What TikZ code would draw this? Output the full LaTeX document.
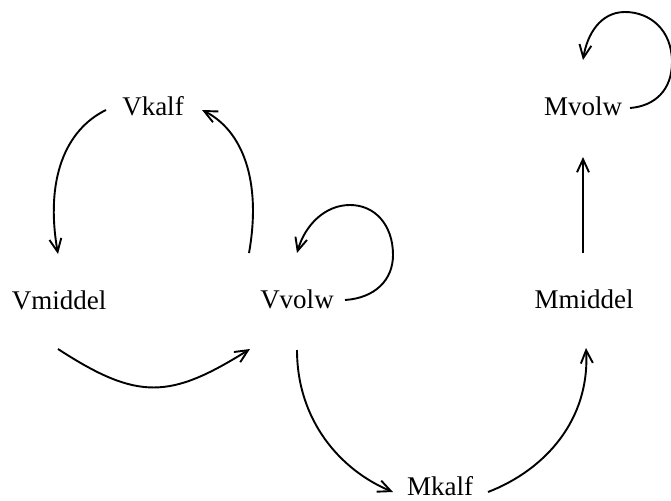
\documentclass[tikz,border=0pt]{standalone}
\usepackage{fontspec}
\setmainfont{Liberation Serif}
\usetikzlibrary{arrows.meta}
\begin{document}
\begin{tikzpicture}[x=1pt,y=-1pt,
  lbl/.style={inner sep=0pt,anchor=base,font=\fontsize{27}{30}\selectfont},
  arr/.style={line width=1.9pt,-{Straight Barb[length=13pt,width=12pt,line width=1.9pt]}}]
\useasboundingbox (0,0) rectangle (671,500);
\node[lbl] (vk) at (153,116) {Vkalf};
\node[lbl] (vm) at (59,309) {Vmiddel};
\node[lbl] (vv) at (297,308) {Vvolw};
\node[lbl] (mv) at (583,115) {Mvolw};
\node[lbl] (mm) at (584,308) {Mmiddel};
\node[lbl] (mk) at (440,495) {Mkalf};
% Vkalf -> Vmiddel
\draw[arr] ([shift={(-47,-6)}]vk.base) .. controls +(-41,20) and +(-13,-74) .. ([shift={(-1,-55)}]vm.base);
% Vvolw -> Vkalf
\draw[arr] ([shift={(-48,-55)}]vv.base) .. controls +(13,-73) and +(40,20) .. ([shift={(49,-6)}]vk.base);
% Vmiddel -> Vvolw
\draw[arr] ([shift={(-1,40)}]vm.base) .. controls +(80,52) and +(-80,50) .. ([shift={(-47,41)}]vv.base);
% Vvolw -> Mkalf
\draw[arr] ([shift={(0,42)}]vv.base) .. controls +(0,70) and +(-53,-22) .. ([shift={(-47,-3)}]mk.base);
% Mkalf -> Mmiddel
\draw[arr] ([shift={(48,-3)}]mk.base) .. controls +(57,-22) and +(4,72) .. ([shift={(2,40)}]mm.base);
% Mmiddel -> Mvolw
\draw[arr] ([shift={(-1,-55)}]mm.base) -- ([shift={(0,42)}]mv.base);
% Vvolw self loop
\begin{scope}[shift={(vv.base)}]
\draw[arr] (48,-8) .. controls (78,-10) and (96,-28) .. (96,-53)
  .. controls (96,-83) and (78,-103) .. (53,-103)
  .. controls (28,-103) and (8,-83) .. (0,-55);
\end{scope}
% Mvolw self loop
\begin{scope}[shift={(mv.base)}]
\draw[arr] (47,-7) .. controls (72,-9) and (89,-25) .. (89,-53)
  .. controls (89,-85) and (67,-103) .. (42,-103)
  .. controls (17,-103) and (4,-80) .. (0,-55);
\end{scope}
\end{tikzpicture}
\end{document}
